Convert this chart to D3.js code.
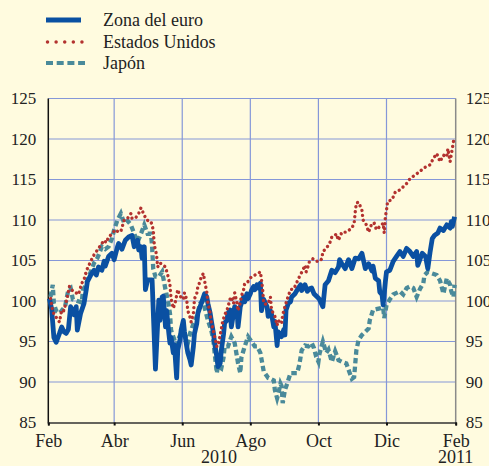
<!DOCTYPE html>
<html><head><meta charset="utf-8">
<script src="https://cdn.jsdelivr.net/npm/d3@7/dist/d3.min.js"></script>
<style>html,body{margin:0;padding:0;background:#fffbdf;}svg{display:block;}</style>
</head><body>
<script>
// ---- Data (index, Feb 2010 = 100); day offsets from 1 Feb 2010 ----
const seriesNames = ["Zona del euro", "Estados Unidos", "Japón"];
const yTicks = [85, 90, 95, 100, 105, 110, 115, 120, 125];
const monthLabels = ["Feb", "Abr", "Jun", "Ago", "Oct", "Dic", "Feb"];
const yearLabels = ["2010", "2011"];

const euroDays = [
  1,3,5,7,10,12,14,16,18,20,
  22,23,25,26,29,32,34,35,38,41,
  43,45,48,50,51,54,57,59,62,63,
  66,69,72,75,77,80,81,83,84,86,
  87,89,92,93,96,99,100,102,103,105,
  106,108,109,110,112,113,115,116,118,119,
  121,122,124,125,127,128,130,131,133,134,
  136,137,139,140,142,143,145,146,148,149,
  151,152,154,155,157,158,160,161,163,164,
  166,167,169,170,172,173,175,176,178,179,
  181,182,184,185,187,188,190,191,193,196,
  197,199,200,202,203,205,206,208,209,211,
  212,213,215,217,218,221,224,226,227,230,
  232,234,236,238,241,243,246,248,251,254,
  257,260,261,263,266,269,272,275,278,281,
  284,287,290,291,293,296,297,299,300,302,
  303,306,309,312,315,318,321,324,327,330,
  331,335,338,340,342,344,346,349,351,354,
  357,360,361,362,364];
const euroValues = [
  100.3,99,95.5,94.9,96,96.8,96.2,96,96.5,99.3,
  98.7,98.3,99.3,96.4,98.5,99.7,101.4,102.4,103.2,103.8,
  103.2,104.2,103.8,104.9,104.3,105.5,105.9,105.1,106.7,107.1,
  106.4,107.5,107.9,108.1,106.7,107.5,106.3,106.7,105.3,106.7,
  101.4,102.6,102.6,102.6,91.6,100.1,97.6,100.5,100.6,96.8,
  98.8,96,94.8,95.5,93.6,94.6,90.5,94,95.2,96.4,
  97.6,96.2,94.4,93.6,92.7,92.1,94.4,96,97.2,98.5,
  99.3,99.7,100.5,100.9,100.5,99.7,98.5,97.6,96,94.8,
  93.1,91.9,92.3,93.9,95.9,97.3,97.6,98.5,98.9,96.8,
  98.5,99.3,99,96.8,99.3,99.7,100.5,99.9,100.9,100.3,
  100.9,101.3,101.8,101.4,102,101.6,102.2,98.8,100.2,99.3,
  98.1,98.8,98.4,96.8,97.5,94.5,96.2,95.8,95.6,96.5,
  95.8,98.9,99.7,99.9,100.5,100.9,101.6,102,101.3,102,
  101.2,101.5,101.6,100.9,100.5,100.2,99.3,102,102.5,103.8,
  103.5,104.2,105.1,104.6,104,105.1,104,105.3,105.2,105.9,
  104,104.6,103.7,104.3,102.8,102.5,101.1,100.8,99.5,102.4,
  103.6,103.8,104.9,105.5,106.1,105.5,106.5,106.1,105.5,106.1,
  104.4,105.9,105.5,104,106,107.7,108.1,108.4,109,108.7,
  109.4,109,109.8,109.2,110.4];

const usDays = [
  2,4,6,10,12,14,16,17,19,22,
  25,27,30,32,33,35,38,41,44,47,
  50,52,54,57,60,63,65,68,71,74,
  75,78,81,83,86,88,92,94,95,97,
  98,100,103,105,107,109,110,112,114,116,
  118,121,122,124,125,127,128,130,131,133,
  134,136,137,139,140,142,143,145,146,149,
  151,152,154,156,158,160,163,164,166,167,
  169,170,172,173,175,176,179,182,185,188,
  190,191,192,193,194,197,199,200,203,205,
  206,209,210,212,214,217,220,223,225,228,
  230,231,233,234,237,240,243,245,246,249,
  252,254,257,258,260,263,267,272,274,275,
  276,278,281,282,285,287,290,292,294,297,
  300,301,302,303,304,308,311,315,318,321,
  324,329,333,336,339,342,345,348,351,354,
  357,358,360,361,363,364];
const usValues = [
  100.3,98.7,98.2,97.4,98.9,98.8,99.9,100.5,101.8,101.2,
  101,100.8,102.2,102.6,103.2,104,104.9,105.7,106.3,106.9,
  107.5,107.2,107.9,108.3,108.8,108.5,108.6,110,110.2,110.8,
  110.2,110.2,110.8,111.5,110.6,110,109.8,108.8,106.9,105.7,
  104.2,104.7,104.4,104.2,103.2,102,100.3,99.1,100,101.4,
  100.6,100.2,101,100.2,98.8,98,97.4,98.5,100.3,100.9,
  101.8,102.4,103,103.4,102.5,101.1,99.8,98.5,97.4,95.6,
  94.4,94.4,95.8,97.3,98.3,98.8,100.3,100.5,99.7,101,
  99.8,98.8,99.8,100.6,101.4,102.2,102.4,103,103.2,103.4,
  103.6,102.6,101.5,99.7,99.6,99.7,100.5,98.9,98.1,97,
  97.6,97.2,98.3,99.3,100.2,101.4,101.5,102.4,103,103.8,
  104.4,103.6,104.4,104.9,105.2,104.9,104.9,105.2,106.1,106.5,
  107.1,107.9,108.1,108.3,107.5,108.5,108.5,109,109.6,111,
  112.1,112.2,111.2,110,109.4,108.5,109.6,109.6,108.8,109.2,
  109.6,108.4,110.4,111.2,112.3,112.5,113.5,113.7,114.1,114.5,
  115.1,115.6,116,116.4,116.6,116.8,117.6,118.2,117.2,118,
  117.8,118.8,117.2,118,119.7,120.2];

const jpDays = [
  2,4,5,7,10,12,15,18,20,22,
  26,28,30,31,33,35,38,41,44,46,
  48,51,54,57,59,62,65,68,71,74,
  77,80,83,86,89,92,93,94,96,99,
  102,105,107,109,110,113,115,116,119,122,
  125,127,130,133,136,139,140,143,146,148,
  149,151,152,155,157,158,161,164,167,170,
  172,173,176,179,182,185,187,190,193,196,
  197,199,202,203,205,206,208,209,210,212,
  214,217,220,223,225,227,230,233,236,238,
  240,242,243,246,249,251,254,257,260,263,
  267,269,272,274,276,278,281,284,287,288,
  291,294,297,300,301,303,306,309,312,315,
  318,321,324,327,330,333,336,337,340,344,
  348,351,354,357,360,361,363,364];
const jpValues = [
  100.5,102,99.7,98.8,98.5,98.8,99.3,101.4,101.6,100.2,
  100,99.9,99.8,101.4,101.8,102.6,103.6,104.7,105.3,106,
  106.7,106.4,106.7,107.7,108.8,110,110.8,109.6,109.9,109.4,
  108.3,107.3,108.3,109.4,108.3,108.3,106.7,104,103,103,
  103.6,101.4,100.2,98.5,96.4,95.2,94,95.2,96,96,
  94.8,96,97.2,98.1,99.7,100,99.2,97.6,96.4,95,
  93.6,91.1,92,91.7,93,94.4,94.4,95.6,94.8,92.3,
  91.1,93,94.4,95.6,95,94.4,94.4,93.6,91.3,90.7,
  90.5,90.4,90.2,89,88,88.5,89.8,89.5,87.4,89,
  89.8,91.1,91.1,91.1,92.2,93.9,94.5,94.4,94.8,94.2,
  93.1,92.5,93.5,95,93.6,94,92.5,93.8,92.7,92.5,
  92.3,91.5,90.4,90.6,93.9,95.2,95.8,96.2,96.6,97.6,
  98.9,99,99.1,99.2,97.9,99.5,100.2,100.8,101,101.2,
  100.8,101.6,101.8,101.6,100.5,101.5,102.2,103.2,103.6,103.4,
  103.2,102.5,100.9,102.8,102,101.2,100.5,102];

// ---- Layout ----
const W = 489, H = 466;
const m = {left: 48.3, right: 455.7, top: 98.5, bottom: 422.5};
const start = new Date(2010, 1, 1), end = new Date(2011, 1, 1);
const colors = {euro: "#0a50a2", us: "#b3322f", jp: "#4a8a9a"};
const serif = "'Liberation Serif','Times New Roman',serif";

const svg = d3.select("body").append("svg").attr("width", W).attr("height", H)
  .style("font-family", serif);
svg.append("rect").attr("width", W).attr("height", H).attr("fill", "#fffbdf");

const x = d3.scaleTime().domain([start, end]).range([m.left, m.right]);
const y = d3.scaleLinear().domain([85, 125]).range([m.bottom, m.top]);
const monthTicks = monthLabels.map((_, i) => d3.timeMonth.offset(start, 2 * i));

// grid
const grid = svg.append("g").attr("stroke", "#8597d8").attr("stroke-width", 1.2);
grid.selectAll("line.h").data(yTicks.filter(v => v > 85)).join("line")
  .attr("x1", m.left).attr("x2", m.right).attr("y1", d => y(d)).attr("y2", d => y(d));
grid.selectAll("line.v").data(monthTicks.slice(1, -1)).join("line")
  .attr("x1", d => x(d)).attr("x2", d => x(d)).attr("y1", m.top).attr("y2", m.bottom);

// axes lines
svg.append("line").attr("x1", m.left).attr("x2", m.left).attr("y1", m.top).attr("y2", m.bottom + 1)
  .attr("stroke", "#111").attr("stroke-width", 1.5);
svg.append("line").attr("x1", m.right).attr("x2", m.right).attr("y1", m.top).attr("y2", m.bottom + 1)
  .attr("stroke", "#8a8a8a").attr("stroke-width", 1.5);

const xAxis = svg.append("g").attr("transform", `translate(0,${m.bottom})`)
  .call(d3.axisBottom(x).tickValues(monthTicks).tickSize(3).tickFormat((d, i) => monthLabels[i]));
xAxis.select(".domain").attr("stroke", "#333").attr("stroke-width", 1.5);
xAxis.selectAll(".tick line").attr("stroke", "#111").attr("stroke-width", 2);
xAxis.selectAll(".tick text").attr("font-size", 18).attr("font-family", serif)
  .attr("fill", "#222").attr("dy", 0).attr("y", 24);

// year labels
svg.append("text").attr("x", x(new Date(2010, 6, 4))).attr("y", 463).attr("text-anchor", "middle")
  .attr("font-size", 18).attr("fill", "#222").text(yearLabels[0]);
svg.append("text").attr("x", x(end)).attr("y", 463).attr("text-anchor", "middle")
  .attr("font-size", 18).attr("fill", "#222").text(yearLabels[1]);

// y labels
const yl = d3.axisLeft(y).tickValues(yTicks).tickSize(0).tickPadding(12);
const gL = svg.append("g").attr("transform", `translate(${m.left},0)`).call(yl);
gL.select(".domain").remove();
gL.selectAll("text").attr("font-size", 17).attr("font-family", serif).attr("fill", "#222");
const yr = d3.axisRight(y).tickValues(yTicks).tickSize(0).tickPadding(10);
const gR = svg.append("g").attr("transform", `translate(${m.right},0)`).call(yr);
gR.select(".domain").remove();
gR.selectAll("text").attr("font-size", 17).attr("font-family", serif).attr("fill", "#222");

// series
function pts(days, vals) { return days.map((d, i) => ({date: d3.timeDay.offset(start, d), v: vals[i]})); }
const line = d3.line().x(d => x(d.date)).y(d => y(d.v));
const pEuro = pts(euroDays, euroValues), pUs = pts(usDays, usValues), pJp = pts(jpDays, jpValues);

svg.append("path").datum(pJp).attr("d", line).attr("fill", "none")
  .attr("stroke", colors.jp).attr("stroke-width", 4.3).attr("stroke-dasharray", "5.5 3.2");
svg.append("path").datum(pEuro).attr("d", line).attr("fill", "none")
  .attr("stroke", colors.euro).attr("stroke-width", 4.8).attr("stroke-linejoin", "round");
svg.append("path").datum(pUs).attr("d", line).attr("fill", "none")
  .attr("stroke", colors.us).attr("stroke-width", 3.4).attr("stroke-linecap", "round")
  .attr("stroke-dasharray", "0.01 5");

// legend
const leg = svg.append("g");
const legY = [20, 42, 63];
leg.append("line").attr("x1", 46).attr("x2", 81).attr("y1", legY[0]).attr("y2", legY[0])
  .attr("stroke", colors.euro).attr("stroke-width", 5);
leg.append("line").attr("x1", 47.5).attr("x2", 82).attr("y1", legY[1]).attr("y2", legY[1])
  .attr("stroke", colors.us).attr("stroke-width", 3.5).attr("stroke-linecap", "round")
  .attr("stroke-dasharray", "0.01 8.6");
leg.append("line").attr("x1", 46).attr("x2", 85).attr("y1", legY[2]).attr("y2", legY[2])
  .attr("stroke", colors.jp).attr("stroke-width", 4).attr("stroke-dasharray", "7 3.7");
seriesNames.forEach((n, i) => {
  leg.append("text").attr("x", 103).attr("y", legY[i] + 6).attr("font-size", 18)
    .attr("fill", "#222").text(n);
});
</script>
</body></html>
